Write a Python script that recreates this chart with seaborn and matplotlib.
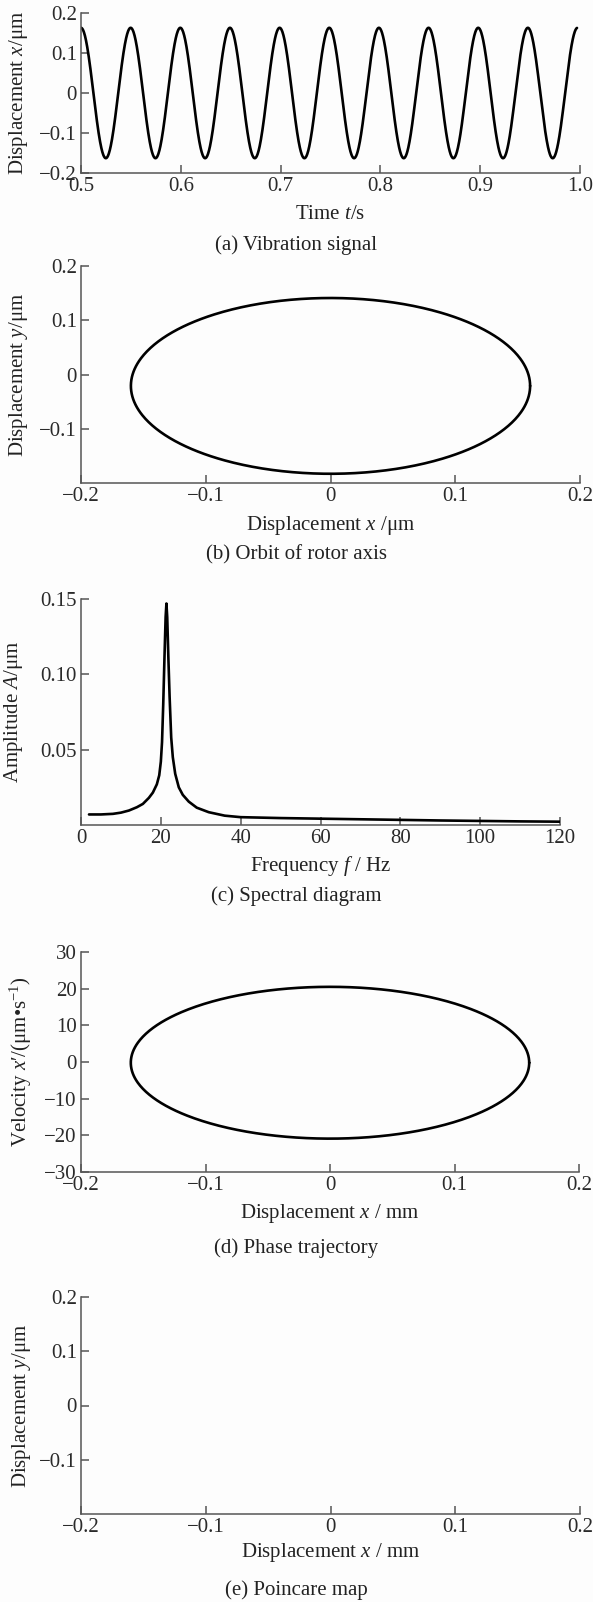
import numpy as np
import pandas as pd
import matplotlib
matplotlib.use("Agg")
import matplotlib.pyplot as plt
import seaborn as sns

# (a) vibration signal
sig_amp = 0.163          # um
sig_freq = 20.1          # Hz, 10 periods between 0.5 s and 1.0 s
sig_t0, sig_t1 = 0.5, 0.997

# (b) orbit of rotor axis: ellipse centre and half axes
orbit_cx, orbit_cy = 0.0, -0.021
orbit_ax, orbit_ay = 0.160, 0.162

# (c) spectrum
spec_f = [2, 5, 8, 10, 12, 14, 15.5, 17, 18, 19, 19.6, 20.0, 20.3, 20.6, 20.9, 21.2,
          21.4, 21.6, 21.9, 22.2, 22.6, 23.0, 23.6, 24.5, 25.5, 27, 29, 32, 36, 40,
          50, 60, 70, 80, 90, 100, 110, 120]
spec_a = [0.0070, 0.0070, 0.0074, 0.0082, 0.0096, 0.0118, 0.0140, 0.0180, 0.0215,
          0.0270, 0.0330, 0.0420, 0.0550, 0.0800, 0.1100, 0.1380, 0.1470, 0.1380,
          0.1100, 0.0850, 0.0580, 0.0450, 0.0340, 0.0250, 0.0200, 0.0155, 0.0115,
          0.0085, 0.0062, 0.0052, 0.0046, 0.0042, 0.0038, 0.0034, 0.0030, 0.0027,
          0.0024, 0.0022]

# (d) phase trajectory: ellipse centre and half axes
phase_cx, phase_cy = 0.0, -0.2
phase_ax, phase_ay = 0.160, 20.7

# tick labels
ticks_a_x = [0.5, 0.6, 0.7, 0.8, 0.9, 1.0]
ticks_a_y = [0.2, 0.1, 0, -0.1, -0.2]
ticks_b_x = [-0.2, -0.1, 0, 0.1, 0.2]
ticks_b_y = [0.2, 0.1, 0, -0.1]
ticks_c_x = [0, 20, 40, 60, 80, 100, 120]
ticks_c_y = [0.15, 0.10, 0.05]
ticks_d_y = [30, 20, 10, 0, -10, -20, -30]

captions = ["(a) Vibration signal", "(b) Orbit of rotor axis", "(c) Spectral diagram",
            "(d) Phase trajectory", "(e) Poincare map"]


def fmt(v, nd=1):
    if v == 0:
        return "0"
    s = f"{abs(v):.{nd}f}"
    return ("\u2212" + s) if v < 0 else s


sns.set_theme(style="ticks")
plt.rcParams.update({
    "font.family": ["Liberation Serif", "DejaVu Serif"],
    "mathtext.fontset": "custom",
    "mathtext.rm": "Liberation Serif",
    "mathtext.it": "Liberation Serif:italic",
    "font.size": 15,
    "axes.labelsize": 15,
    "axes.edgecolor": "#555555",
    "axes.linewidth": 1.1,
    "xtick.direction": "in",
    "ytick.direction": "in",
    "xtick.major.size": 6,
    "ytick.major.size": 6,
    "xtick.major.width": 1.1,
    "ytick.major.width": 1.1,
    "xtick.color": "#555555",
    "ytick.color": "#555555",
    "xtick.labelcolor": "#2a2a2a",
    "ytick.labelcolor": "#2a2a2a",
    "xtick.labelsize": 15,
    "ytick.labelsize": 15,
    "xtick.major.pad": 3,
    "ytick.major.pad": 3,
    "text.color": "#222222",
    "axes.labelcolor": "#222222",
})

W, H = 593, 1602
fig = plt.figure(figsize=(W / 100, H / 100), dpi=100)
fig.patch.set_facecolor("#fdfdfd")

# panel boxes in pixels: left, right, top, bottom
boxes = [(81, 580, 13, 173), (81, 580, 266, 483), (81, 560, 599, 825),
         (81, 579, 952, 1172), (81, 580, 1297, 1514)]
ylab_right = [30, 30, 25, 34, 33]
xlab_top = [205, 514, 854, 1202, 1541]
cap_y = [245, 555, 896, 1248, 1590]

axes = []
for (l, r, t, b) in boxes:
    ax = fig.add_axes([l / W, 1 - b / H, (r - l) / W, (b - t) / H])
    ax.set_facecolor("none")
    sns.despine(ax=ax)
    axes.append(ax)

lw = 1.9
line_kw = dict(color="black", lw=lw, sort=False, estimator=None)

# (a)
t = np.linspace(sig_t0, sig_t1, 2000)
df_a = pd.DataFrame({"t": t, "x": sig_amp * np.cos(2 * np.pi * sig_freq * (t - sig_t0))})
sns.lineplot(data=df_a, x="t", y="x", ax=axes[0], **line_kw)
axes[0].set_xlim(0.5, 1.0)
axes[0].set_ylim(-0.2, 0.2)
axes[0].set_xticks(ticks_a_x, [fmt(v) for v in ticks_a_x])
axes[0].set_yticks(ticks_a_y, [fmt(v) for v in ticks_a_y])
axes[0].set_xlabel("Time $t$/s")
axes[0].set_ylabel("Displacement $x$/\u03bcm")

# (b)
th = np.linspace(0, 2 * np.pi, 600)
df_b = pd.DataFrame({"x": orbit_cx + orbit_ax * np.cos(th), "y": orbit_cy + orbit_ay * np.sin(th)})
sns.lineplot(data=df_b, x="x", y="y", ax=axes[1], **line_kw)
axes[1].set_xlim(-0.2, 0.2)
axes[1].set_ylim(-0.2, 0.2)
axes[1].set_xticks(ticks_b_x, [fmt(v) for v in ticks_b_x])
axes[1].set_yticks(ticks_b_y, [fmt(v) for v in ticks_b_y])
axes[1].set_xlabel("Displacement $x$ /\u03bcm")
axes[1].set_ylabel("Displacement $y$/\u03bcm")

# (c)
df_c = pd.DataFrame({"f": spec_f, "A": spec_a})
sns.lineplot(data=df_c, x="f", y="A", ax=axes[2], **line_kw)
axes[2].set_xlim(0, 120)
axes[2].set_ylim(0, 0.15)
axes[2].set_xticks(ticks_c_x, [str(v) for v in ticks_c_x])
axes[2].set_yticks(ticks_c_y, [fmt(v, 2) for v in ticks_c_y])
axes[2].set_xlabel("Frequency $f$ / Hz")
axes[2].set_ylabel("Amplitude $A$/\u03bcm")

# (d)
df_d = pd.DataFrame({"x": phase_cx + phase_ax * np.cos(th), "v": phase_cy + phase_ay * np.sin(th)})
sns.lineplot(data=df_d, x="x", y="v", ax=axes[3], **line_kw)
axes[3].set_xlim(-0.2, 0.2)
axes[3].set_ylim(-30, 30)
axes[3].set_xticks(ticks_b_x, [fmt(v) for v in ticks_b_x])
axes[3].set_yticks(ticks_d_y, [fmt(v, 0) for v in ticks_d_y])
axes[3].set_xlabel("Displacement $x$ / mm")
axes[3].set_ylabel("Velocity $x$\u2032/(\u03bcm\u2022s$^{\u22121}$)")

# (e) empty Poincare map
axes[4].set_xlim(-0.2, 0.2)
axes[4].set_ylim(-0.2, 0.2)
axes[4].set_xticks(ticks_b_x, [fmt(v) for v in ticks_b_x])
axes[4].set_yticks(ticks_b_y, [fmt(v) for v in ticks_b_y])
axes[4].set_xlabel("Displacement $x$ / mm")
axes[4].set_ylabel("Displacement $y$/\u03bcm")

for ax, (l, r, t, b), yr, xt, cy, cap in zip(axes, boxes, ylab_right, xlab_top, cap_y, captions):
    ax.yaxis.set_label_coords((yr - l) / (r - l), 0.5)
    ax.xaxis.set_label_coords(0.5, (b - xt) / (b - t))
    fig.text(296 / W, 1 - cy / H, cap, ha="center", va="center", fontsize=15)

fig.savefig("out.png", dpi=100, facecolor=fig.get_facecolor())
